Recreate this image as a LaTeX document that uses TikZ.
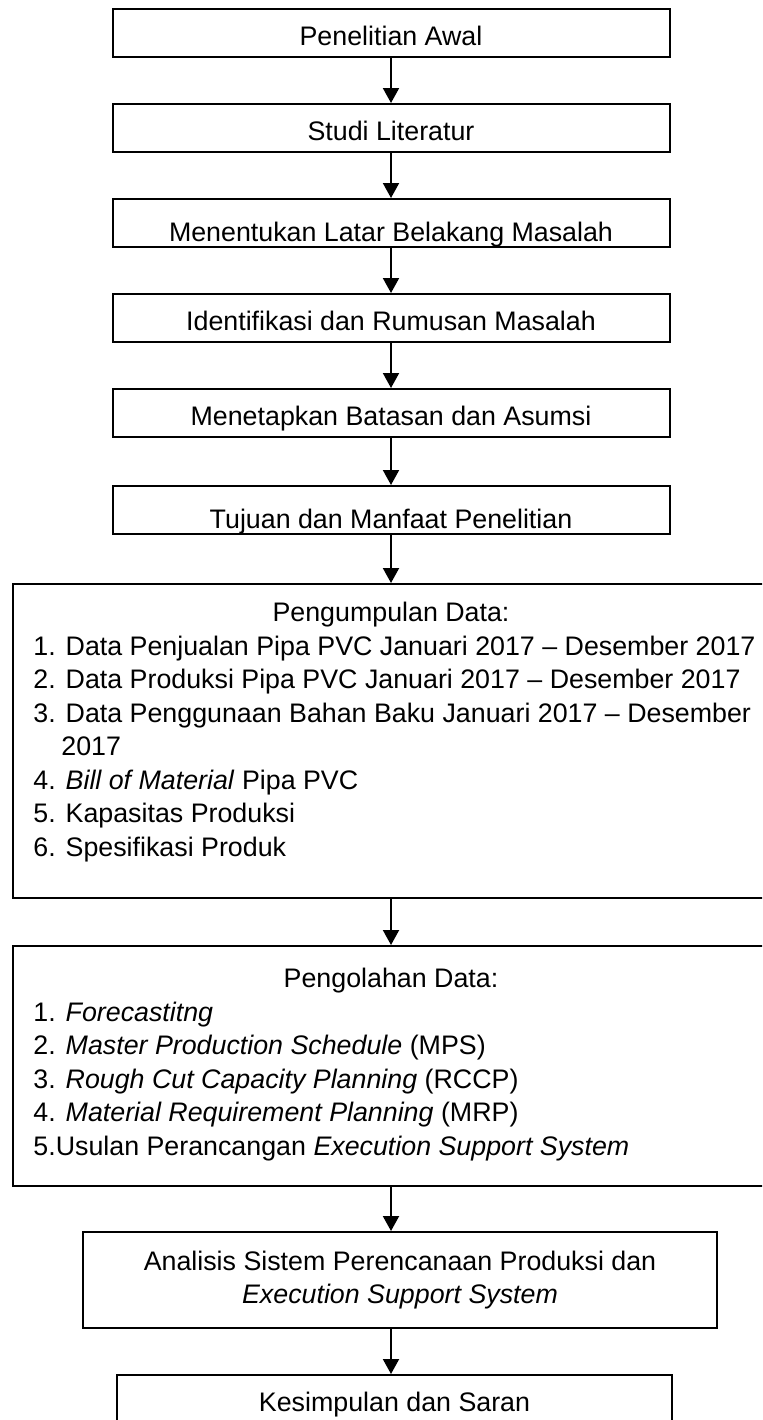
\documentclass[tikz,border=0pt]{standalone}
\usepackage{fontspec}
\setmainfont{Liberation Sans}
\usetikzlibrary{arrows.meta,positioning}

\begin{document}
\begin{tikzpicture}[x=0.5pt,y=0.5pt,yscale=-1,xscale=1,
	box/.style={draw,line width=1pt,minimum width=278.5pt,minimum height=24pt,inner sep=0pt,text height=18pt,text depth=6pt,font=\fontsize{13.4}{16.75}\selectfont},
	bigbox/.style={draw,line width=1pt,anchor=north west,inner sep=0pt,minimum width=400pt},
	txt/.style={inner sep=0pt,anchor=base west,font=\fontsize{13.4}{16.75}\selectfont},
	flow/.style={-{Triangle[length=7.5pt,width=8pt]},line width=1pt}]
		\clip (0,0) rectangle (762,1420);
		
		% Steps
		\node[box] (awal) at (391,33) {Penelitian Awal};
		\node[box] (studi) at (391,128) {Studi Literatur};
		\node[box,text height=21pt,text depth=3pt] (latar) at (391,223) {Menentukan Latar Belakang Masalah};
		\node[box] (rumusan) at (391,318) {Identifikasi dan Rumusan Masalah};
		\node[box] (batasan) at (391,413) {Menetapkan Batasan dan Asumsi};
		\node[box,text height=21pt,text depth=3pt] (tujuan) at (391,510) {Tujuan dan Manfaat Penelitian};
		
		% Pengumpulan data
		\node[bigbox,minimum height=157pt] (kumpul) at (12,583) {};
		\node[txt,anchor=base] (kumpulJudul) at (391,621) {Pengumpulan Data:};
		\node[txt] (kumpul1) at (33,655) {1. Data Penjualan Pipa PVC Januari 2017 -- Desember 2017};
		\node[txt] (kumpul2) at (33,688.5) {2. Data Produksi Pipa PVC Januari 2017 -- Desember 2017};
		\node[txt] (kumpul3) at (33,722) {3. Data Penggunaan Bahan Baku Januari 2017 -- Desember};
		\node[txt] (kumpul3b) at (61,755.5) {2017};
		\node[txt] (kumpul4) at (33,789) {4. \textit{Bill of Material} Pipa PVC};
		\node[txt] (kumpul5) at (33,822.5) {5. Kapasitas Produksi};
		\node[txt] (kumpul6) at (33,856) {6. Spesifikasi Produk};
		
		% Pengolahan data
		\node[bigbox,minimum height=120pt] (olah) at (12,945) {};
		\node[txt,anchor=base] (olahJudul) at (391,987) {Pengolahan Data:};
		\node[txt] (olah1) at (33,1021) {1. \textit{Forecastitng}};
		\node[txt] (olah2) at (33,1054.5) {2. \textit{Master Production Schedule} (MPS)};
		\node[txt] (olah3) at (33,1088) {3. \textit{Rough Cut Capacity Planning} (RCCP)};
		\node[txt] (olah4) at (33,1121.5) {4. \textit{Material Requirement Planning} (MRP)};
		\node[txt] (olah5) at (33,1155) {5.Usulan Perancangan \textit{Execution Support System}};
		
		% Analisis dan kesimpulan
		\node[box,minimum width=317pt,minimum height=48pt,text height=,text depth=,align=center,font=\fontsize{13.4}{16.5}\selectfont] (analisis) at (400,1280) {Analisis Sistem Perencanaan Produksi dan\\\textit{Execution Support System}};
		\node[box,minimum width=277.5pt] (simpul) at (394.5,1399) {Kesimpulan dan Saran};
		
		% Connection
		\draw[flow] (awal) -- (studi);
		\draw[flow] (studi) -- (latar);
		\draw[flow] (latar) -- (rumusan);
		\draw[flow] (rumusan) -- (batasan);
		\draw[flow] (batasan) -- (tujuan);
		\draw[flow] (tujuan) -- (kumpul.north -| tujuan.south);
		\draw[flow] (kumpul.south -| tujuan.south) -- (olah.north -| tujuan.south);
		\draw[flow] (olah.south -| tujuan.south) -- (analisis.north -| tujuan.south);
		\draw[flow] (analisis.south -| tujuan.south) -- (simpul.north -| tujuan.south);
		
\end{tikzpicture}
\end{document}
